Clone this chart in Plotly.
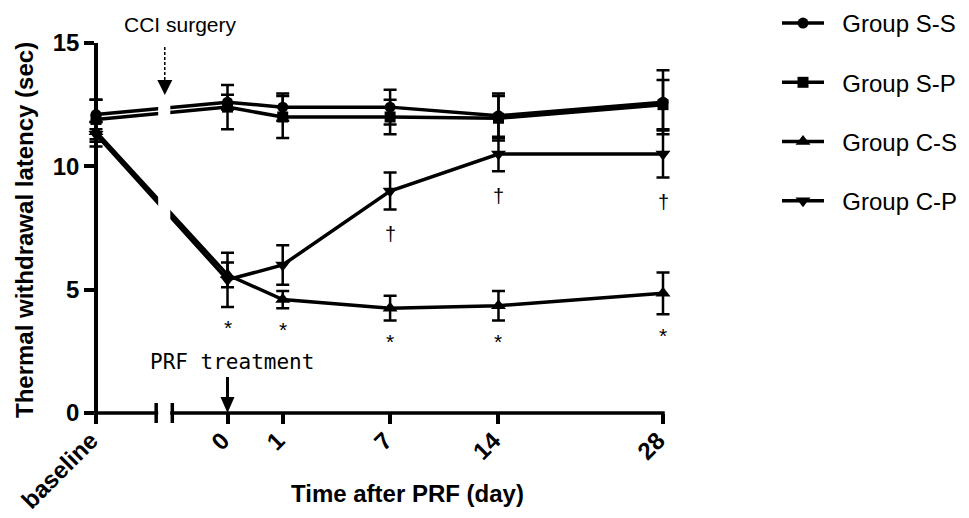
import plotly.graph_objects as go

# ---------------- data ----------------
groups = ["Group S-S", "Group S-P", "Group C-S", "Group C-P"]
time_labels = ["baseline", "0", "1", "7", "14", "28"]

ss_mean = [12.1, 12.6, 12.4, 12.4, 12.05, 12.6]
ss_err = [0.6, 0.3, 0.55, 0.7, 0.9, 1.3]
sp_mean = [11.9, 12.4, 12.0, 12.0, 11.95, 12.5]
sp_err = [0.8, 0.9, 0.85, 0.7, 0.9, 1.0]
cs_mean = [11.4, 5.6, 4.6, 4.25, 4.35, 4.85]
cs_err = [0.4, 0.5, 0.35, 0.5, 0.6, 0.85]
cp_mean = [11.3, 5.4, 6.0, 9.0, 10.5, 10.5]
cp_err = [0.5, 1.1, 0.8, 0.75, 0.7, 0.95]

star_times = ["0", "1", "7", "14", "28"]      # C-S vs sham, *
dagger_times = ["7", "14", "28"]              # C-P vs C-S, dagger

y_ticks = [0, 5, 10, 15]

# ---------------- axis layout (uneven GraphPad-style spacing) ----------------
tick_pos = [0, 2.382, 3.382, 5.327, 7.29, 10.27]
pos_of = dict(zip(time_labels, tick_pos))
break_lo, break_hi = 1.09, 1.382

FONT = "Arial, Liberation Sans, sans-serif"
BLACK = "#000000"

# axes frame in page pixels (page has an 8px body margin)
AX_L, AX_R, PT, PH = 96, 663, 43, 370
PAD = 10                                   # room so end error-bar caps are not clipped
UNIT = (AX_R - AX_L) / tick_pos[-1]        # px per x unit
PL, PW = AX_L - PAD, (AX_R - AX_L) + 2 * PAD
x_range = [-PAD / UNIT, tick_pos[-1] + PAD / UNIT]


def pxx(x):
    return (x - PL) / PW


def pxy(y):
    return (PT + PH - y) / PH


series = [
    (groups[0], ss_mean, ss_err, "circle", 11),
    (groups[1], sp_mean, sp_err, "square", 11),
    (groups[2], cs_mean, cs_err, "triangle-up", 13),
    (groups[3], cp_mean, cp_err, "triangle-down", 13),
]

NB = "\u00a0\u00a0"
fig = go.Figure()
for i, (name, m, e, sym, sz) in enumerate(series):
    fig.add_trace(go.Scatter(
        x=tick_pos, y=m, name=NB + name, mode="lines+markers",
        line=dict(color=BLACK, width=3.5),
        marker=dict(symbol=sym, size=sz, color=BLACK),
        error_y=dict(type="data", array=e, thickness=2.5, width=6.5, color=BLACK),
        cliponaxis=False, legendgroup=f"g{i}",
    ))

annotations = []
# significance marks
for t in star_times:
    k = time_labels.index(t)
    low = min(cs_mean[k] - cs_err[k], cp_mean[k] - cp_err[k])
    annotations.append(dict(x=pos_of[t], y=low - 0.85, text="*", showarrow=False,
                            xanchor="center", yanchor="middle",
                            font=dict(family=FONT, size=21, color=BLACK)))
for t in dagger_times:
    k = time_labels.index(t)
    annotations.append(dict(x=pos_of[t], y=cp_mean[k] - cp_err[k] - 1.0, text="†",
                            xanchor="center", yanchor="middle",
                            showarrow=False, font=dict(family=FONT, size=20, color=BLACK)))

# text labels
annotations += [
    dict(xref="paper", yref="paper", x=pxx(180), y=pxy(24), text="CCI surgery",
         showarrow=False, xanchor="center", yanchor="middle",
         font=dict(family=FONT, size=21, color=BLACK)),
    dict(x=2.47, y=2.07, text="PRF treatment", showarrow=False, xanchor="center", yanchor="middle",
         font=dict(family="DejaVu Sans Mono, monospace", size=21, color=BLACK)),
    dict(xref="paper", yref="paper", x=pxx(407), y=pxy(493),
         text="<b>Time after PRF (day)</b>", xanchor="center", yanchor="middle",
         showarrow=False, font=dict(family=FONT, size=24, color=BLACK)),
    dict(xref="paper", yref="paper", x=pxx(25), y=pxy(230),
         text="<b>Thermal withdrawal latency (sec)</b>", xanchor="center", yanchor="middle",
         textangle=-90, showarrow=False, font=dict(family=FONT, size=24, color=BLACK)),
]

py = PH / 15.0
mid = (break_lo + break_hi) / 2 + 0.01
d0 = pos_of["0"]
shapes = [
    # x axis line (from baseline to last day only)
    dict(type="line", xref="x", yref="paper", x0=-1.75 / UNIT, x1=tick_pos[-1] + 1.75 / UNIT,
         y0=0, y1=0, line=dict(color=BLACK, width=3.5), layer="above"),
    # axis break: hide lines / axis in the gap
    dict(type="rect", xref="x", yref="paper", x0=break_lo + 2 / UNIT, x1=break_hi - 2 / UNIT,
         y0=-0.02, y1=0.9, fillcolor="white", line=dict(width=0), layer="above"),
    dict(type="line", xref="x", yref="paper", x0=break_lo, x1=break_lo, y0=-0.027, y1=0.027,
         line=dict(color=BLACK, width=3.5), layer="above"),
    dict(type="line", xref="x", yref="paper", x0=break_hi, x1=break_hi, y0=-0.027, y1=0.027,
         line=dict(color=BLACK, width=3.5), layer="above"),
    # CCI surgery dashed arrow
    dict(type="line", xref="x", yref="y", x0=mid, x1=mid, y0=14.84, y1=13.5,
         line=dict(color=BLACK, width=1.5, dash="3px,2px"), layer="above"),
    dict(type="path", xref="x", yref="y",
         path=f"M{mid - 7.5 / UNIT},13.5 L{mid + 7.5 / UNIT},13.5 L{mid},{13.5 - 15 / py} Z",
         fillcolor=BLACK, line=dict(color=BLACK, width=0), layer="above"),
    # PRF treatment arrow
    dict(type="line", xref="x", yref="y", x0=d0, x1=d0, y0=1.46, y1=0.6,
         line=dict(color=BLACK, width=3), layer="above"),
    dict(type="path", xref="x", yref="y",
         path=f"M{d0 - 7 / UNIT},0.65 L{d0 + 7 / UNIT},0.65 L{d0},0.0 Z",
         fillcolor=BLACK, line=dict(color=BLACK, width=0), layer="above"),
]

# figure sits 8px in from the page's top-left corner
OFF = 8
FW, FH = 969 - OFF, 518 - OFF
fig.update_layout(
    width=FW, height=FH,
    margin=dict(l=PL - OFF, r=FW - (PL - OFF) - PW, t=PT - OFF, b=FH - (PT - OFF) - PH,
                autoexpand=False),
    paper_bgcolor="white", plot_bgcolor="white",
    font=dict(family=FONT, color=BLACK),
    showlegend=True,
    legend=dict(x=pxx(777), y=pxy(1), xanchor="left", yanchor="top",
                font=dict(family=FONT, size=24, color=BLACK),
                tracegroupgap=25, itemwidth=42, bgcolor="rgba(0,0,0,0)"),
    annotations=annotations,
    shapes=shapes,
    xaxis=dict(range=x_range, tickvals=tick_pos, ticktext=[f"<b>{t}</b>" for t in time_labels],
               tickangle=-45, ticks="outside", ticklen=10, tickwidth=3.5, tickcolor=BLACK,
               showline=False, showgrid=False, zeroline=False,
               ticklabelstandoff=-7, ticklabelshift=-5,
               automargin=False, tickfont=dict(family=FONT, size=24, color=BLACK)),
    yaxis=dict(range=[0, 15], tickvals=y_ticks, ticktext=[f"<b>{v}</b>" for v in y_ticks],
               anchor="free", position=pxx(AX_L),
               ticks="outside", ticklen=10, tickwidth=3.5, tickcolor=BLACK,
               showline=True, linewidth=3.5, linecolor=BLACK, showgrid=False, zeroline=False,
               automargin=False, tickfont=dict(family=FONT, size=24, color=BLACK)),
)

fig.write_html("out.html")
